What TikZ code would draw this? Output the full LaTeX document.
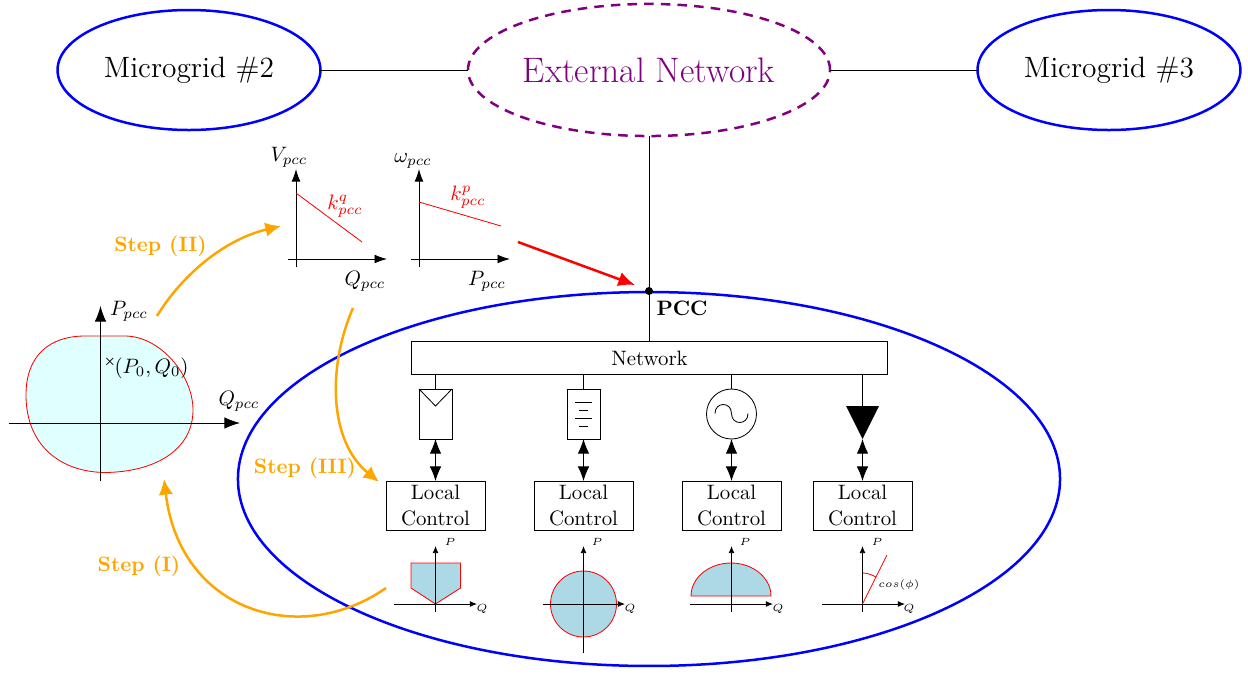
\documentclass[tikz,border=0pt]{standalone}
\usetikzlibrary{arrows.meta,shapes.geometric}
\definecolor{extpurple}{RGB}{128,0,128}
\definecolor{blobfill}{RGB}{224,255,255}
\definecolor{capfill}{RGB}{173,216,230}
\definecolor{steporange}{RGB}{255,165,0}
\tikzset{
  mgrid/.style={ellipse,draw=blue,line width=1.2pt,minimum width=126.2pt,minimum height=57.6pt,inner sep=0pt,outer sep=0pt,font=\fontsize{14.1}{17}\selectfont},
  extnet/.style={ellipse,draw=extpurple,dash pattern=on 4.6pt off 3.4pt,line width=1.2pt,minimum width=173.8pt,minimum height=63.4pt,inner sep=0pt,outer sep=0pt,text=extpurple,font=\fontsize{17}{20}\selectfont},
  bigell/.style={ellipse,draw=blue,line width=1.2pt,minimum width=394.6pt,minimum height=179.5pt,inner sep=0pt,outer sep=0pt},
  netbox/.style={rectangle,draw,minimum width=228.5pt,minimum height=15.8pt,inner sep=0pt,outer sep=0pt},
  lcbox/.style={rectangle,draw,align=center,minimum width=47.5pt,minimum height=23.5pt,inner sep=0pt,outer sep=0pt,font=\fontsize{10}{12.5}\selectfont},
  devbox/.style={rectangle,draw,minimum width=15.8pt,minimum height=24pt,inner sep=0pt,outer sep=0pt},
  gencirc/.style={circle,draw,minimum size=24pt,inner sep=0pt,outer sep=0pt},
  lblnode/.style={inner sep=0pt,outer sep=0pt},
  tinylbl/.style={inner sep=0pt,outer sep=0pt,font=\tiny},
  steplbl/.style={inner sep=0pt,outer sep=0pt,text=steporange,font=\bfseries},
  bigaxis/.style={-{Latex[length=7.5pt,width=5.5pt]}},
  midaxis/.style={-{Latex[length=6pt,width=4.2pt]}},
  smallaxis/.style={-{Latex[length=3.4pt,width=2.8pt]}},
  dblarrow/.style={{Latex[length=7pt,width=5.5pt]}-{Latex[length=7pt,width=5.5pt]}},
  steparrow/.style={steporange,line width=1.2pt,-{Latex[length=7.5pt,width=7pt]}},
}
\begin{document}
\begin{tikzpicture}[x=0.48pt,y=-0.48pt]
\useasboundingbox (0,0) rectangle (1248,675);

% top row
\node[mgrid] (mg2) at (189,70) {Microgrid \#2};
\node[extnet] (ext) at (649,70) {External Network};
\node[mgrid] (mg3) at (1109,70) {Microgrid \#3};
\draw (mg2) -- (ext);
\draw (ext) -- (mg3);

% microgrid
\node[bigell] (mg1) at (649,479) {};
\node[netbox] (net) at (649,357.5) {};
\node[lblnode] (nettext) at (649.5,358) {Network};
\coordinate (pcc) at (649,291);
\draw (ext.south) -- (pcc);
\draw (pcc) -- (net.north);
\fill (pcc) circle[radius=4];
\node[lblnode,font=\bfseries] (pcclbl) at (682,308) {PCC};

% devices
\node[devbox] (pv) at (435.5,414) {};
\draw (pv.north west) -- (435.5,406) -- (pv.north east);
\node[devbox] (bat) at (583.5,414) {};
\draw (575,402) -- (592,402);
\draw (579,410) -- (588,410);
\draw (575,418) -- (592,418);
\draw (579,426) -- (588,426);
\node[gencirc] (gen) at (731.5,414) {};
\draw (715,413.5) .. controls (715,401.5) and (731.5,401.5) .. (731.5,413.5) .. controls (731.5,425.5) and (748,425.5) .. (748,413.5);
\coordinate (loadtop) at (862.5,406);
\coordinate (loadtip) at (862.5,439);
\fill (846,406) -- (879,406) -- (loadtip) -- cycle;

\draw (pv.north) -- (pv.north |- net.south);
\draw (bat.north) -- (bat.north |- net.south);
\draw (gen.north) -- (gen.north |- net.south);
\draw (loadtop) -- (loadtop |- net.south);

% local control
\node[lcbox] (lc1) at (435.5,505.5) {Local\\Control};
\node[lcbox] (lc2) at (583.5,505.5) {Local\\Control};
\node[lcbox] (lc3) at (731.5,505.5) {Local\\Control};
\node[lcbox] (lc4) at (862.5,505.5) {Local\\Control};
\draw[dblarrow] (pv.south) -- (lc1.north);
\draw[dblarrow] (bat.south) -- (lc2.north);
\draw[dblarrow] (gen.south) -- (lc3.north);
\draw[dblarrow] (loadtip) -- (lc4.north);

% capability curves
\filldraw[fill=capfill,draw=red] (411,563) -- (460.5,563) -- (460.5,588) -- (435.5,604) -- (411,588) -- cycle;
\draw[smallaxis] (394,604) -- (477,604);
\draw[smallaxis] (435.5,612) -- (435.5,546);
\node[tinylbl] (p1) at (450,542) {$P$};
\node[tinylbl] (q1) at (482,609) {$Q$};

\filldraw[fill=capfill,draw=red] (583.5,604) circle[radius=33];
\draw[smallaxis] (543,604) -- (625,604);
\draw[smallaxis] (583.5,653) -- (583.5,546);
\node[tinylbl] (p2) at (597,542) {$P$};
\node[tinylbl] (q2) at (630,609) {$Q$};

\filldraw[fill=capfill,draw=red] (691,596) .. controls (691,577.8) and (709,563) .. (731,563) .. controls (753,563) and (771,577.8) .. (771,596) -- cycle;
\draw[smallaxis] (690,604) -- (773,604);
\draw[smallaxis] (731.5,612) -- (731.5,546);
\node[tinylbl] (p3) at (745,542) {$P$};
\node[tinylbl] (q3) at (778,609) {$Q$};

\draw[smallaxis] (822,604) -- (905,604);
\draw[smallaxis] (862.5,612) -- (862.5,546);
\draw[red] (862.5,604) -- (887,555);
\draw[red] (862.5,573) .. controls (868,573) and (872,575) .. (876,577);
\node[tinylbl] (p4) at (877,542) {$P$};
\node[tinylbl] (q4) at (909,609) {$Q$};
\node[tinylbl] (cosphi) at (899,585) {$cos(\phi)$};

% droop 1
\draw[midaxis] (288,259) -- (387,259);
\draw[midaxis] (296,267) -- (296,169);
\draw[red] (296,193) -- (362,242);
\node[lblnode] (vlbl) at (289,157) {$V_{pcc}$};
\node[lblnode] (q5) at (365,281) {$Q_{pcc}$};
\node[lblnode,text=red] (kq) at (345,206) {$k^q_{pcc}$};

% droop 2
\draw[midaxis] (411,259) -- (510,259);
\draw[midaxis] (419,267) -- (419,169);
\draw[red] (419,202) -- (501,226);
\node[lblnode] (wlbl) at (413,161) {$\omega_{pcc}$};
\node[lblnode] (p5) at (487,281) {$P_{pcc}$};
\node[lblnode,text=red] (kp) at (468,197) {$k^p_{pcc}$};

\coordinate (rs) at (518,242);
\coordinate (re) at (635,285);
\draw[red,line width=1.2pt,-{Latex[length=8pt,width=7pt]}] (rs) -- (re);

% PQ capability
\draw[red,fill=blobfill] (85,336) -- (125,336) .. controls (160,336) and (193,375) .. (193,410) .. controls (193,450) and (155,472) .. (105,472.5) .. controls (60,472) and (26,445) .. (26,395) .. controls (26,355) and (50,336) .. (85,336) -- cycle;
\draw[bigaxis] (9,423) -- (240,423);
\draw[bigaxis] (100.5,481) -- (100.5,306);
\node[lblnode] (plbl) at (129,311) {$P_{pcc}$};
\node[lblnode] (qlbl) at (239,401) {$Q_{pcc}$};
\node[lblnode,font=\fontsize{5}{6}\selectfont\bfseries] (cross) at (110,361.5) {\texttimes};
\node[lblnode] (pt) at (151.5,368) {$(P_0,Q_0)$};

% steps
\coordinate (s2a) at (157,316);
\coordinate (s2b) at (281,226);
\coordinate (s3a) at (353,308);
\coordinate (s3b) at (379,482);
\coordinate (s1a) at (386,588);
\coordinate (s1b) at (164,479);
\draw[steparrow] (s2a) .. controls (180,278) and (222,240) .. (s2b);
\draw[steparrow] (s3a) .. controls (328,365) and (328,440) .. (s3b);
\draw[steparrow] (s1a) .. controls (300,648) and (180,612) .. (s1b);
\node[steplbl] (st2) at (160.5,246) {Step (II)};
\node[steplbl] (st3) at (305,468) {Step (III)};
\node[steplbl] (st1) at (139,566) {Step (I)};
\end{tikzpicture}
\end{document}
